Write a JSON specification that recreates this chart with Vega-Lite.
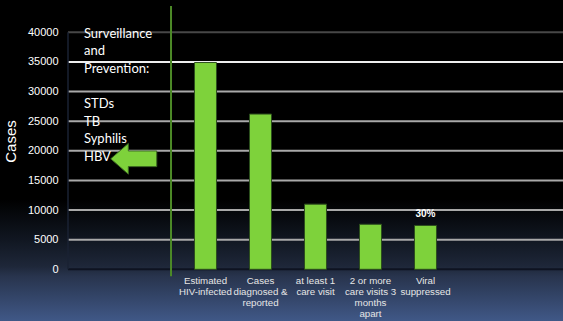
{
  "$schema": "https://vega.github.io/schema/vega-lite/v6.json",
  "width": 563,
  "height": 321,
  "autosize": {"type": "none"},
  "padding": 0,
  "background": "#000000",
  "config": {
    "view": {
      "stroke": null,
      "fill": {
        "gradient": "linear",
        "x1": 0, "y1": 0, "x2": 0, "y2": 1,
        "stops": [
          {"offset": 0, "color": "#000000"},
          {"offset": 0.62, "color": "#000000"},
          {"offset": 0.75, "color": "#111722"},
          {"offset": 0.83, "color": "#1e2739"},
          {"offset": 0.86, "color": "#28344d"},
          {"offset": 1, "color": "#405887"}
        ]
      }
    }
  },
  "layer": [
    {
      "data": {"values": [{"g": 5000}, {"g": 10000}, {"g": 15000}, {"g": 20000}, {"g": 25000}, {"g": 30000}]},
      "mark": {"type": "rule", "color": "#a9a9a9", "strokeWidth": 2},
      "encoding": {
        "x": {"datum": "blank1", "type": "nominal", "bandPosition": 0,
              "scale": {"domain": ["blank1", "blank2", "Estimated|HIV-infected", "Cases|diagnosed &|reported", "at least 1|care visit", "2 or more|care visits 3|months|apart", "Viral|suppressed", "blank3", "blank4"], "paddingInner": 0, "paddingOuter": 0.61818, "align": 1}},
        "x2": {"datum": "blank4", "bandPosition": 1},
        "y": {"field": "g", "type": "quantitative",
              "scale": {"domain": [-8724, 45451], "nice": false, "zero": false}}
      }
    },
    {
      "data": {"values": [{}]},
      "mark": {"type": "rule", "color": "#eeeeee", "strokeWidth": 2},
      "encoding": {
        "x": {"datum": "blank1", "type": "nominal", "bandPosition": 0},
        "x2": {"datum": "blank4", "bandPosition": 1},
        "y": {"datum": 35000, "type": "quantitative"}
      }
    },
    {
      "data": {"values": [{}]},
      "mark": {"type": "rule", "color": "#474747", "strokeWidth": 2},
      "encoding": {
        "x": {"datum": "blank1", "type": "nominal", "bandPosition": 0},
        "x2": {"datum": "blank4", "bandPosition": 1},
        "y": {"datum": 40000, "type": "quantitative"}
      }
    },
    {
      "data": {"values": [{}]},
      "mark": {"type": "rule", "color": "#0e1321", "strokeWidth": 2},
      "encoding": {
        "x": {"datum": "blank1", "type": "nominal", "bandPosition": 0},
        "x2": {"datum": "blank4", "bandPosition": 1},
        "y": {"datum": 0, "type": "quantitative"}
      }
    },
    {
      "data": {"values": [{}]},
      "mark": {"type": "rule", "color": "#1a2233", "strokeWidth": 1.5},
      "encoding": {
        "x": {"datum": "blank1", "type": "nominal", "bandPosition": 0},
        "y": {"datum": 0, "type": "quantitative"},
        "y2": {"datum": 40000}
      }
    },
    {
      "data": {"values": [{}]},
      "mark": {"type": "rule", "color": "#4c8a27", "strokeWidth": 2},
      "encoding": {
        "x": {"datum": "blank2", "type": "nominal", "bandPosition": 0.873},
        "y": {"datum": 44431, "type": "quantitative"},
        "y2": {"datum": -1181}
      }
    },
    {
      "data": {"values": [
        {"stage": "Estimated|HIV-infected", "cases": 34900, "note": ""},
        {"stage": "Cases|diagnosed &|reported", "cases": 26200, "note": ""},
        {"stage": "at least 1|care visit", "cases": 11000, "note": ""},
        {"stage": "2 or more|care visits 3|months|apart", "cases": 7600, "note": ""},
        {"stage": "Viral|suppressed", "cases": 7400, "note": "30%"}
      ]},
      "encoding": {
        "x": {"field": "stage", "type": "nominal", "sort": null,
              "axis": {"orient": "bottom", "offset": -52, "bandPosition": 0.5, "domain": false, "ticks": false, "tickSize": 0, "grid": false,
                       "labelAngle": 0, "labelAlign": "center", "labelFont": "Liberation Sans", "labelFontSize": 9.7, "labelColor": "#e6e6e6",
                       "labelPadding": 6, "labelLineHeight": 11.3, "labelBaseline": "top", "labelOverlap": false, "labelLimit": 200,
                       "labelExpr": "indexof(datum.label, 'blank') == 0 ? '' : split(datum.label, '|')", "title": null}},
        "y": {"field": "cases", "type": "quantitative",
              "axis": {"orient": "left", "offset": -68, "values": [0, 5000, 10000, 15000, 20000, 25000, 30000, 35000, 40000],
                       "format": "d", "domain": false, "ticks": false, "tickSize": 0, "grid": false,
                       "labelFont": "Liberation Sans", "labelFontSize": 11, "labelColor": "#ffffff", "labelPadding": 10,
                       "title": "Cases", "titleFont": "Liberation Sans", "titleFontSize": 15, "titleFontWeight": "normal",
                       "titleColor": "#ffffff", "titlePadding": 9, "titleY": 141}}
      },
      "layer": [
        {"mark": {"type": "bar", "width": {"band": 0.4}, "fill": "#7ed23b", "stroke": "#2d4f1e", "strokeWidth": 1}},
        {"mark": {"type": "text", "baseline": "alphabetic", "dy": -8, "font": "Liberation Sans", "fontSize": 10, "fontWeight": "bold", "color": "#ffffff"},
         "encoding": {"text": {"field": "note"}}}
      ]
    },
    {
      "data": {"values": [{}]},
      "mark": {"type": "text", "align": "left", "baseline": "alphabetic", "font": "Lato", "fontSize": 13, "lineHeight": 17.6, "color": "#ffffff",
               "text": ["Surveillance", "and", "Prevention:"]},
      "encoding": {
        "x": {"datum": "blank1", "type": "nominal", "bandPosition": 0.29},
        "y": {"datum": 39082, "type": "quantitative"}
      }
    },
    {
      "data": {"values": [{}]},
      "mark": {"type": "text", "align": "left", "baseline": "alphabetic", "font": "Lato", "fontSize": 13, "lineHeight": 17.6, "color": "#ffffff",
               "text": ["STDs", "TB", "Syphilis", "HBV"]},
      "encoding": {
        "x": {"datum": "blank1", "type": "nominal", "bandPosition": 0.29},
        "y": {"datum": 27219, "type": "quantitative"}
      }
    },
    {
      "data": {"values": [{}]},
      "mark": {"type": "point", "filled": true, "opacity": 1, "fill": "#7ed23b", "stroke": "#3d6b22", "strokeWidth": 1, "size": 2116,
               "shape": "M -1 0 L -0.235 -0.667 L -0.235 -0.34 L 1 -0.34 L 1 0.34 L -0.235 0.34 L -0.235 0.667 Z"},
      "encoding": {
        "x": {"datum": "blank2", "type": "nominal", "bandPosition": 0.195},
        "y": {"datum": 18650, "type": "quantitative"}
      }
    }
  ]
}
